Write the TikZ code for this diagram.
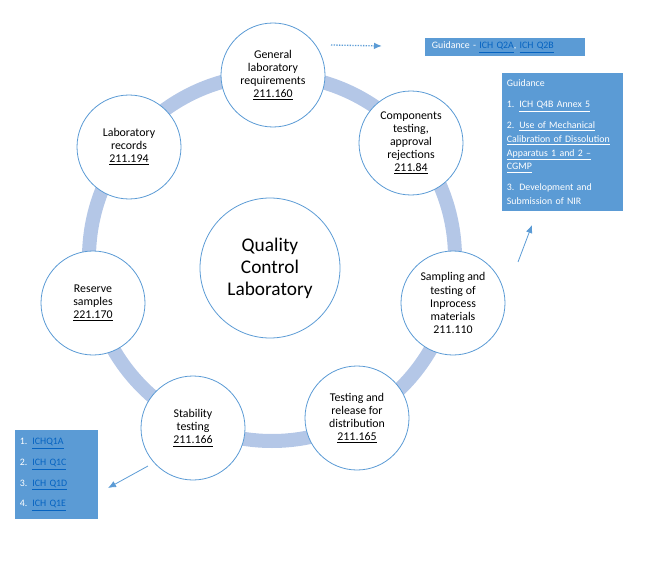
\documentclass[tikz,border=0pt]{standalone}
\usepackage{fontspec}
\setmainfont{Carlito}
\usetikzlibrary{arrows.meta}
\definecolor{ringblue}{RGB}{180,199,231}
\definecolor{lineblue}{RGB}{91,155,213}
\definecolor{boxblue}{RGB}{91,155,213}
\definecolor{linkblue}{RGB}{5,99,193}
\newcommand{\reflink}[1]{\textcolor{linkblue}{\underline{#1}}}
\newcommand{\wlink}[1]{\underline{#1}}
\begin{document}
\begin{tikzpicture}[x=0.75pt,y=-0.75pt,
    stage/.style={circle, draw=lineblue, line width=0.6pt, fill=white, minimum size=78pt, inner sep=0pt, align=center, font=\fontsize{8.9}{9.8}\selectfont},
    guide/.style={fill=boxblue, text=white, inner xsep=3.5pt, inner ysep=0pt, align=left, anchor=north west, font=\fontsize{7.4}{10.3}\selectfont}]
    \useasboundingbox (0,0) rectangle (650,567);
    % ring behind the stages
    \draw[ringblue, line width=10.5pt] (272,258) circle (183);
    \node[stage, minimum size=105pt, font=\fontsize{14.5}{16.5}\selectfont] (qcl) at (270,268) {Quality\\Control\\Laboratory};
    \node[stage] (general) at (273,75) {General\\laboratory\\requirements\\\underline{211.160}};
    \node[stage] (components) at (411,143) {Components\\testing,\\approval\\rejections\\\underline{211.84}};
    \node[stage] (sampling) at (453,303) {Sampling and\\testing of\\Inprocess\\materials\\211.110};
    \node[stage] (release) at (357,418) {Testing and\\release for\\distribution\\\underline{211.165}};
    \node[stage] (stability) at (193,428) {Stability\\testing\\\underline{211.166}};
    \node[stage] (reserve) at (93,303) {Reserve\\samples\\\underline{221.170}};
    \node[stage] (records) at (129,147) {Laboratory\\records\\\underline{211.194}};
    % guidance boxes
    \node[guide, inner xsep=5pt, text width=110pt, minimum height=13.5pt] (guidetop) at (425,38) {Guidance - \reflink{ICH Q2A}, \reflink{ICH Q2B}};
    \node[guide, text width=83.75pt, minimum height=103.5pt] (guideright) at (502,73) {Guidance\\[5.5pt]
        1. \wlink{ICH Q4B Annex 5}\\[5.5pt]
        2. \wlink{Use of Mechanical}\\
        \wlink{Calibration of Dissolution}\\
        \wlink{Apparatus 1 and 2 --}\\
        \wlink{CGMP}\\[5.5pt]
        3. Development and\\
        Submission of NIR};
    \node[guide, text width=55.25pt, minimum height=66.75pt, font=\fontsize{7.4}{15.5}\selectfont] (guideq) at (15,430) {1. \reflink{ICHQ1A}\\
        2. \reflink{ICH Q1C}\\
        3. \reflink{ICH Q1D}\\
        4. \reflink{ICH Q1E}};
    % pointers
    \coordinate (gtail) at (331,45);
    \coordinate (ghead) at (382,46);
    \coordinate (stail) at (518,262);
    \coordinate (shead) at (532,225);
    \coordinate (qtail) at (148,466);
    \coordinate (qhead) at (108,488);
    \draw[lineblue, densely dotted, line width=1pt, ->, >={Latex[length=6pt,width=5pt]}] (gtail) -- (ghead);
    \draw[lineblue, line width=0.6pt, ->, >={Latex[length=6pt,width=5pt]}] (stail) -- (shead);
    \draw[lineblue, line width=0.6pt, ->, >={Latex[length=6pt,width=5pt]}] (qtail) -- (qhead);
\end{tikzpicture}
\end{document}
